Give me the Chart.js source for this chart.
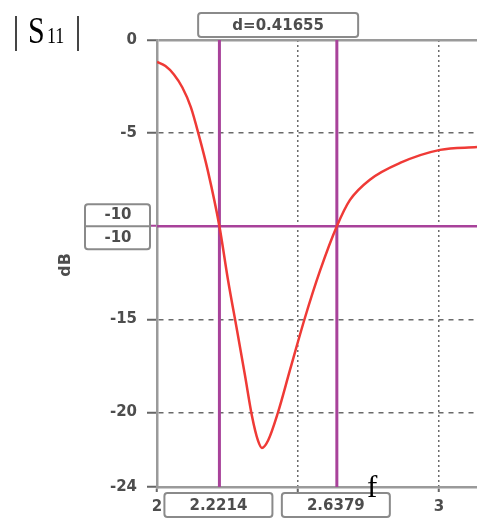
<!DOCTYPE html>
<html>
<head>
<meta charset="utf-8">
<script src="https://cdn.jsdelivr.net/npm/chart.js@4/dist/chart.umd.min.js"></script>
<style>
html,body{margin:0;padding:0;background:#fff;}
#wrap{position:relative;width:477px;height:525px;}
</style>
</head>
<body>
<div id="wrap"><canvas id="c"></canvas></div>
<script>
// ---- data ----
const freq = [2.00, 2.03, 2.06, 2.09, 2.12, 2.15, 2.18, 2.2214, 2.252, 2.284, 2.312, 2.337, 2.358, 2.372, 2.394, 2.429, 2.472, 2.525, 2.578, 2.6379, 2.684, 2.755, 2.862, 3.004, 3.135];
const s11 = [-1.18, -1.4, -1.85, -2.55, -3.6, -5.2, -7.0, -10.0, -12.9, -15.6, -18.0, -20.2, -21.5, -21.9, -21.5, -20.0, -17.7, -14.9, -12.4, -10.0, -8.6, -7.5, -6.6, -5.9, -5.75];
const markerFreqs = [2.2214, 2.6379];
const markerLabels = ['2.2214', '2.6379'];
const markerLevel = -10;
const levelLabels = ['-10', '-10'];
const deltaLabel = 'd=0.41655';
const xTickValues = [2, 2.5, 3];
const yTickValues = [0, -5, -10, -15, -20, -24];
const xMin = 2, xMax = 3.135, yMin = -24, yMax = 0;

const MAG = '#a8429a';
const RED = '#ef3a36';
const TXT = '#4d4d4d';
const FONT = '"DejaVu Sans", Verdana, sans-serif';

const datasets = [];
markerFreqs.forEach(f => {
  datasets.push({data: [{x: f, y: yMax}, {x: f, y: yMin}], borderColor: MAG, borderWidth: 3, pointRadius: 0, order: 2});
});
datasets.push({data: [{x: xMin, y: markerLevel}, {x: xMax, y: markerLevel}], borderColor: MAG, borderWidth: 2.5, pointRadius: 0, order: 2});
datasets.push({
  data: freq.map((f, i) => ({x: f, y: s11[i]})),
  borderColor: RED, borderWidth: 2.5, pointRadius: 0,
  cubicInterpolationMode: 'monotone', order: 1
});

function box(ctx, x, y, w, h) {
  ctx.save();
  ctx.fillStyle = '#fff';
  ctx.strokeStyle = '#8a8a8a';
  ctx.lineWidth = 2;
  ctx.beginPath();
  if (ctx.roundRect) ctx.roundRect(x, y, w, h, 3); else ctx.rect(x, y, w, h);
  ctx.fill();
  ctx.stroke();
  ctx.restore();
}

const annot = {
  id: 'annot',
  afterDraw(chart) {
    const ctx = chart.ctx;
    const xs = chart.scales.x, ys = chart.scales.y;
    const ca = chart.chartArea;
    ctx.save();
    ctx.font = 'bold 15px ' + FONT;
    ctx.fillStyle = TXT;
    ctx.textAlign = 'center';
    ctx.textBaseline = 'middle';
    // marker frequency boxes
    markerFreqs.forEach((f, i) => {
      const px = xs.getPixelForValue(f);
      box(ctx, px - 55, ca.bottom + 6, 108, 24);
      ctx.fillStyle = TXT;
      ctx.fillText(markerLabels[i], px - 1, ca.bottom + 19);
    });
    // delta box
    const p1 = xs.getPixelForValue(markerFreqs[0]);
    const p2 = xs.getPixelForValue(markerFreqs[1]);
    const mid = (p1 + p2) / 2;
    box(ctx, mid - 80, ca.top - 27, 160, 24);
    ctx.fillStyle = TXT;
    ctx.fillText(deltaLabel, mid, ca.top - 14);
    // level box
    const py = ys.getPixelForValue(markerLevel);
    box(ctx, 85, py - 22, 65, 45);
    ctx.strokeStyle = '#8a8a8a';
    ctx.lineWidth = 2;
    ctx.beginPath(); ctx.moveTo(85, py); ctx.lineTo(150, py); ctx.stroke();
    ctx.fillStyle = TXT;
    ctx.fillText(levelLabels[0], 118, py - 11);
    ctx.fillText(levelLabels[1], 118, py + 12);
    // axis title dB
    ctx.save();
    ctx.translate(66, 265);
    ctx.rotate(-Math.PI / 2);
    ctx.font = 'bold 16px ' + FONT;
    ctx.fillText('dB', 0, 0);
    ctx.restore();
    // |S11| label
    ctx.fillStyle = '#000';
    ctx.textAlign = 'left';
    ctx.textBaseline = 'alphabetic';
    ctx.save();
    ctx.translate(0, 43);
    ctx.scale(1, 1.25);
    ctx.font = '30px "Liberation Serif", "Times New Roman", serif';
    ctx.fillText('|', 13, 0);
    ctx.fillText('S', 28, 0);
    ctx.fillText('|', 75, 0);
    ctx.font = '18px "Liberation Serif", "Times New Roman", serif';
    ctx.fillText('11', 47, 0);
    ctx.restore();
    // f label
    ctx.font = '31px "Liberation Serif", "Times New Roman", serif';
    ctx.fillText('f', 367, 497);
    ctx.restore();
  }
};

new Chart(document.getElementById('c'), {
  type: 'line',
  data: {datasets},
  plugins: [annot],
  options: {
    responsive: true,
    maintainAspectRatio: false,
    animation: false,
    layout: {padding: {top: 40, left: 0, right: 0, bottom: 0}},
    plugins: {legend: {display: false}, tooltip: {enabled: false}},
    scales: {
      x: {
        type: 'linear', min: xMin, max: xMax,
        afterBuildTicks: s => { s.ticks = xTickValues.map(v => ({value: v})); },
        afterFit: s => { s.height = 38; },
        ticks: {color: TXT, font: {family: FONT, size: 15, weight: 'bold'}, padding: 6, maxRotation: 0,
          callback: v => String(v)},
        grid: {color: '#6a6a6a', lineWidth: 1.5, tickLength: 5, tickColor: '#666', tickWidth: 2},
        border: {color: '#9a9a9a', width: 2.5, dash: [2, 3]}
      },
      y: {
        type: 'linear', min: yMin, max: yMax,
        afterBuildTicks: s => { s.ticks = yTickValues.map(v => ({value: v})); },
        afterFit: s => { s.width = 157; },
        ticks: {color: TXT, font: {family: FONT, size: 15, weight: 'bold'}, padding: 10,
          callback: v => String(v)},
        grid: {
          color: c => (c.tick && c.tick.value === 0) ? '#9a9a9a' : '#6a6a6a',
          lineWidth: c => (c.tick && c.tick.value === 0) ? 2.5 : 1.5,
          tickLength: 10,
          tickColor: c => (c.tick && c.tick.value === markerLevel) ? MAG : '#666',
          tickWidth: 2
        },
        border: {color: '#9a9a9a', width: 2.5,
          dash: c => (c.tick && c.tick.value !== 0) ? [5, 5] : []}
      }
    }
  }
});
</script>
</body>
</html>
